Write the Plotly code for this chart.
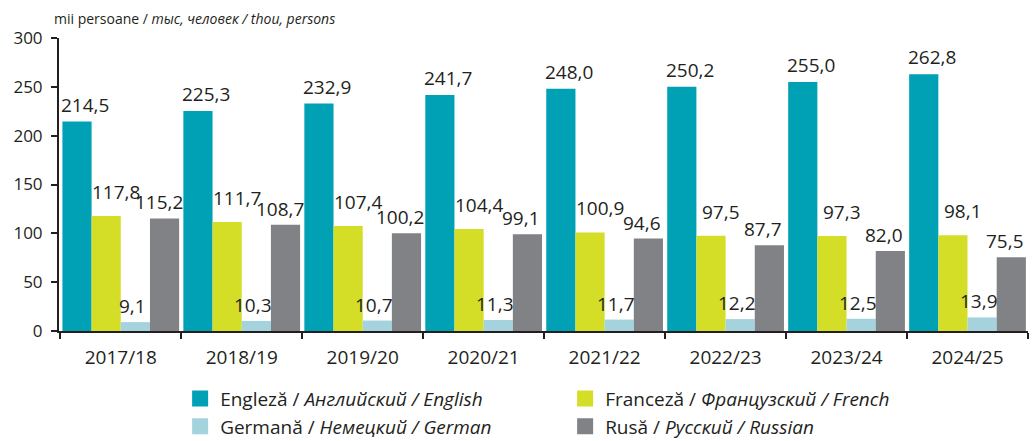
import plotly.graph_objects as go

years = ["2017/18", "2018/19", "2019/20", "2020/21", "2021/22", "2022/23", "2023/24", "2024/25"]
english = [214.5, 225.3, 232.9, 241.7, 248.0, 250.2, 255.0, 262.8]
french = [117.8, 111.7, 107.4, 104.4, 100.9, 97.5, 97.3, 98.1]
german = [9.1, 10.3, 10.7, 11.3, 11.7, 12.2, 12.5, 13.9]
russian = [115.2, 108.7, 100.2, 99.1, 94.6, 87.7, 82.0, 75.5]

names = [
    "Engleză / <i>Английский / English</i>",
    "Franceză / <i>Французский / French</i>",
    "Germană / <i>Немецкий / German</i>",
    "Rusă / <i>Русский / Russian</i>",
]
colors = ["#00a1b5", "#d4de26", "#a4d3de", "#818286"]
series = [english, french, german, russian]

FONT = "Open Sans"
TXT = "#231f20"
bargap = 0.035
label_yshift = [17, 24, 16, 16]
label_xshift = [8, 10, -3, -6]

fig = go.Figure()
for name, vals, col in zip(names, series, colors):
    fig.add_trace(go.Bar(x=years, y=vals, name=name, marker=dict(color=col, line=dict(width=0)),
                         showlegend=False, hoverinfo="skip"))
    fig.add_trace(go.Scatter(x=[None], y=[None], mode="markers", name=name, hoverinfo="skip",
                             marker=dict(symbol="square", size=16, color=col)))

w = (1 - bargap) / 4
ann = []
for i, vals in enumerate(series):
    for k, v in enumerate(vals):
        xpos = k - 0.5 + bargap / 2 + w * (i + 0.5)
        ann.append(dict(x=xpos, y=v, xref="x", yref="y", text=f"{v:.1f}".replace(".", ","),
                        showarrow=False, yanchor="middle", xanchor="center",
                        yshift=label_yshift[i], xshift=label_xshift[i],
                        font=dict(family=FONT, size=19, color=TXT)))
ann.append(dict(x=(52 - 59) / 969, y=1 + (38 - 18) / 293, xref="paper", yref="paper",
                xanchor="left", yanchor="middle",
                text="mii persoane / <i>тыс, человек / thou, persons</i>",
                showarrow=False, font=dict(family=FONT, size=14, color=TXT)))

fig.update_layout(
    width=1032, height=441,
    margin=dict(l=59, r=4, t=38, b=110, autoexpand=False),
    paper_bgcolor="white", plot_bgcolor="white",
    barmode="group", bargap=bargap, bargroupgap=0,
    font=dict(family=FONT, color=TXT),
    annotations=ann,
    legend=dict(orientation="h", x=0.125, xanchor="left", yref="container", y=0.139, yanchor="top",
                entrywidth=340, entrywidthmode="pixels", tracegroupgap=0,
                font=dict(family=FONT, size=19, color=TXT), itemsizing="trace"),
    xaxis=dict(showline=True, linecolor=TXT, linewidth=2, ticks="outside", tickson="boundaries",
               ticklen=6, tickwidth=2, tickcolor=TXT, tickfont=dict(family=FONT, size=19, color=TXT),
               ticklabelstandoff=8, showgrid=False, zeroline=False, automargin=False),
    yaxis=dict(range=[0, 300], tickvals=[0, 50, 100, 150, 200, 250, 300], showline=True, linecolor=TXT,
               linewidth=2, ticks="outside", ticklen=6, tickwidth=2, tickcolor=TXT,
               tickfont=dict(family=FONT, size=17, color=TXT), ticklabelstandoff=5,
               showgrid=False, zeroline=False, automargin=False),
)

fig.write_html("out.html", config={"displayModeBar": False},
               post_script="document.body.style.margin='0';document.body.style.overflow='hidden';")
